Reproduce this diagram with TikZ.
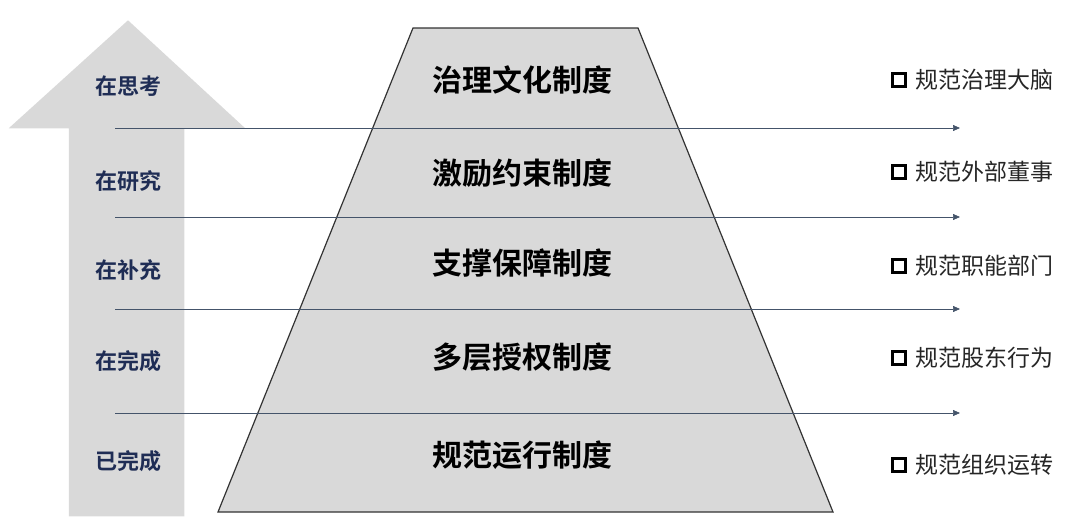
\documentclass[tikz,border=0pt]{standalone}
\usepackage{fontspec}
\newfontfamily\cjk{Noto Sans CJK SC}
\newfontfamily\cjkb{Noto Sans CJK SC Bold}
\usetikzlibrary{arrows.meta}
\definecolor{navy}{HTML}{1F2D55}
\definecolor{lgray}{HTML}{D9D9D9}
\definecolor{ln}{HTML}{44546A}
\begin{document}
\begin{tikzpicture}[x=1pt,y=-1pt,
  lvl/.style={font=\cjkb\fontsize{30}{30}\selectfont,text=black},
  stat/.style={font=\cjkb\fontsize{22}{22}\selectfont,text=navy},
  item/.style={font=\cjk\fontsize{23}{23}\selectfont,text=black!85,anchor=west},
  sep/.style={draw=ln,line width=0.7pt,-{Triangle[length=7pt,width=6pt]}}]
\useasboundingbox (0,0) rectangle (1080,525);
% arrow
\draw[draw=white!85!black,line width=2.5pt,fill=lgray]
  (70,515)--(70,127)--(12,127)--(128,22)--(242,127)--(183,127)--(183,515)--cycle;
% pyramid
\draw[draw=black!80,line width=1.2pt,fill=lgray] (413,28)--(638,28)--(833,512)--(218,512)--cycle;
\foreach \t/\y [count=\i] in {治理文化制度/80,激励约束制度/173,支撑保障制度/263,多层授权制度/357,规范运行制度/455}
  \node[lvl] (p\i) at (522,\y) {\t};
\foreach \t/\y [count=\i] in {在思考/86,在研究/181,在补充/270,在完成/361,已完成/461}
  \node[stat] (s\i) at (128,\y) {\t};
\foreach \t/\y [count=\i] in {规范治理大脑/80,规范外部董事/172,规范职能部门/266,规范股东行为/358,规范组织运转/465}{
  \node[draw=black,line width=2.2pt,minimum size=13pt,inner sep=0pt] (b\i) at (899,\y) {};
  \node[item] (r\i) at (912,\y) {\t};}
\foreach \y [count=\i] in {128,217,309,413}{
  \coordinate (a\i) at (115,\y); \coordinate (e\i) at (960,\y);
  \draw[sep] (a\i)--(e\i);}
\end{tikzpicture}
\end{document}
